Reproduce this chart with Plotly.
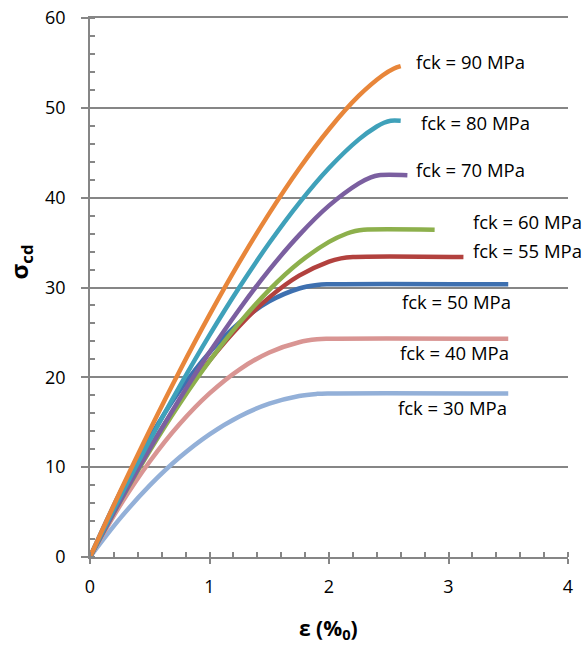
import plotly.graph_objects as go

# strain (per mil) and stress values
eps_30 = [0, 0.25, 0.5, 0.75, 1.0, 1.25, 1.5, 1.75, 1.9, 2.0, 3.5]
sig_30 = [0, 4.27, 7.97, 11.10, 13.66, 15.65, 17.07, 17.93, 18.16, 18.21, 18.21]
eps_40 = [0, 0.25, 0.5, 0.75, 1.0, 1.25, 1.5, 1.75, 1.9, 2.0, 3.5]
sig_40 = [0, 5.69, 10.63, 14.80, 18.21, 20.87, 22.77, 23.91, 24.23, 24.29, 24.29]
eps_50 = [0, 0.25, 0.5, 0.75, 1.0, 1.25, 1.5, 1.75, 1.9, 2.0, 3.5]
sig_50 = [0, 7.12, 13.28, 18.50, 22.77, 26.09, 28.46, 29.89, 30.28, 30.36, 30.36]
eps_55 = [0, 0.25, 0.5, 0.75, 1.0, 1.25, 1.5, 1.75, 2.0, 2.1, 2.2, 3.125]
sig_55 = [0, 6.36, 12.14, 17.31, 21.85, 25.72, 28.90, 31.32, 32.89, 33.24, 33.39, 33.39]
eps_60 = [0, 0.25, 0.5, 0.75, 1.0, 1.25, 1.5, 1.75, 2.0, 2.15, 2.22, 2.29, 2.884]
sig_60 = [0, 6.13, 11.82, 17.06, 21.82, 26.06, 29.74, 32.78, 35.08, 36.01, 36.29, 36.43, 36.43]
eps_70 = [0, 0.25, 0.5, 0.75, 1.0, 1.25, 1.5, 1.75, 2.0, 2.25, 2.35, 2.416, 2.656]
sig_70 = [0, 6.17, 12.04, 17.59, 22.78, 27.58, 31.96, 35.83, 39.11, 41.59, 42.26, 42.50, 42.50]
eps_80 = [0, 0.25, 0.5, 0.75, 1.0, 1.25, 1.5, 1.75, 2.0, 2.25, 2.4, 2.46, 2.516, 2.60]
sig_80 = [0, 6.63, 12.97, 19.00, 24.70, 30.03, 34.95, 39.40, 43.30, 46.49, 47.92, 48.34, 48.57, 48.57]
eps_90 = [0, 0.25, 0.5, 0.75, 1.0, 1.25, 1.5, 1.75, 2.0, 2.25, 2.45, 2.54, 2.6]
sig_90 = [0, 7.21, 14.12, 20.71, 26.95, 32.82, 38.25, 43.22, 47.62, 51.35, 53.63, 54.36, 54.64]

series_names = ["fck = 30 MPa", "fck = 40 MPa", "fck = 50 MPa", "fck = 55 MPa",
                "fck = 60 MPa", "fck = 70 MPa", "fck = 80 MPa", "fck = 90 MPa"]
series_eps = [eps_30, eps_40, eps_50, eps_55, eps_60, eps_70, eps_80, eps_90]
series_sig = [sig_30, sig_40, sig_50, sig_55, sig_60, sig_70, sig_80, sig_90]
colors = ["#93B0D8", "#D99593", "#3E70B0", "#B2413E", "#8DB04C", "#7B5FA0", "#3FA1BA", "#E8863A"]

# label anchor positions (data coords)
label_x = [2.56, 2.58, 2.59, 3.19, 3.19, 2.71, 2.75, 2.71]
label_y = [16.6, 22.8, 28.4, 34.1, 37.4, 43.1, 48.4, 55.2]

y_max = 60

fig = go.Figure()
for name, ex, sy, c in zip(series_names, series_eps, series_sig, colors):
    fig.add_trace(go.Scatter(x=ex, y=sy, mode="lines", name=name,
                             line=dict(color=c, width=4.5, shape="spline", smoothing=1.0),
                             showlegend=False, hoverinfo="skip"))

font_family = "Open Sans, Liberation Sans, Arial, sans-serif"
for name, lx, ly in zip(series_names, label_x, label_y):
    fig.add_annotation(x=lx, y=ly, text=name, showarrow=False, xanchor="left",
                       yanchor="middle", font=dict(family=font_family, size=18.5, color="#000"))

fig.add_annotation(xref="paper", yref="paper", x=-0.146, y=0.547, xanchor="center", yanchor="middle",
                   text="<b>σ<sub>cd</sub></b>", textangle=-90, showarrow=False,
                   font=dict(family=font_family, size=24, color="#000"))
fig.add_annotation(xref="paper", yref="paper", x=0.498, y=-0.133, xanchor="center", yanchor="middle",
                   text="<b>ε (%<sub>0</sub>)</b>", showarrow=False,
                   font=dict(family=font_family, size=21, color="#000"))

axis_color = "#868686"

fig.update_layout(
    width=585, height=646,
    margin=dict(l=90, r=17, t=18, b=89, autoexpand=False),
    paper_bgcolor="white", plot_bgcolor="white",
    font=dict(family=font_family, size=18, color="#000"),
    # mirrored x-axis line provides the top (60) gridline
    xaxis=dict(range=[0, 4], dtick=1, showgrid=False, zeroline=False, automargin=False,
               showline=True, mirror=True, linecolor=axis_color, linewidth=1.5,
               ticks="outside", ticklen=5, tickcolor=axis_color, tickwidth=1.5,
               ticklabelstandoff=8,
               minor=dict(dtick=0.2, ticks="inside", ticklen=5, tickcolor=axis_color, tickwidth=1.5),
               tickfont=dict(size=18)),
    yaxis=dict(range=[0, y_max], dtick=10, showgrid=True, gridcolor=axis_color, gridwidth=1.5,
               zeroline=False, showline=True, linecolor=axis_color, linewidth=1.5, automargin=False,
               ticks="outside", ticklen=7, tickcolor=axis_color, tickwidth=1.5,
               ticklabelstandoff=12,
               minor=dict(dtick=2, ticks="inside", ticklen=5, tickcolor=axis_color, tickwidth=1.5),
               tickfont=dict(size=18)),
)

fig.write_html(
    "out.html",
    config={"displayModeBar": False},
    post_script=("document.body.style.margin='0';"
                 "document.body.style.overflow='hidden';"
                 "document.documentElement.style.overflow='hidden';"),
)
